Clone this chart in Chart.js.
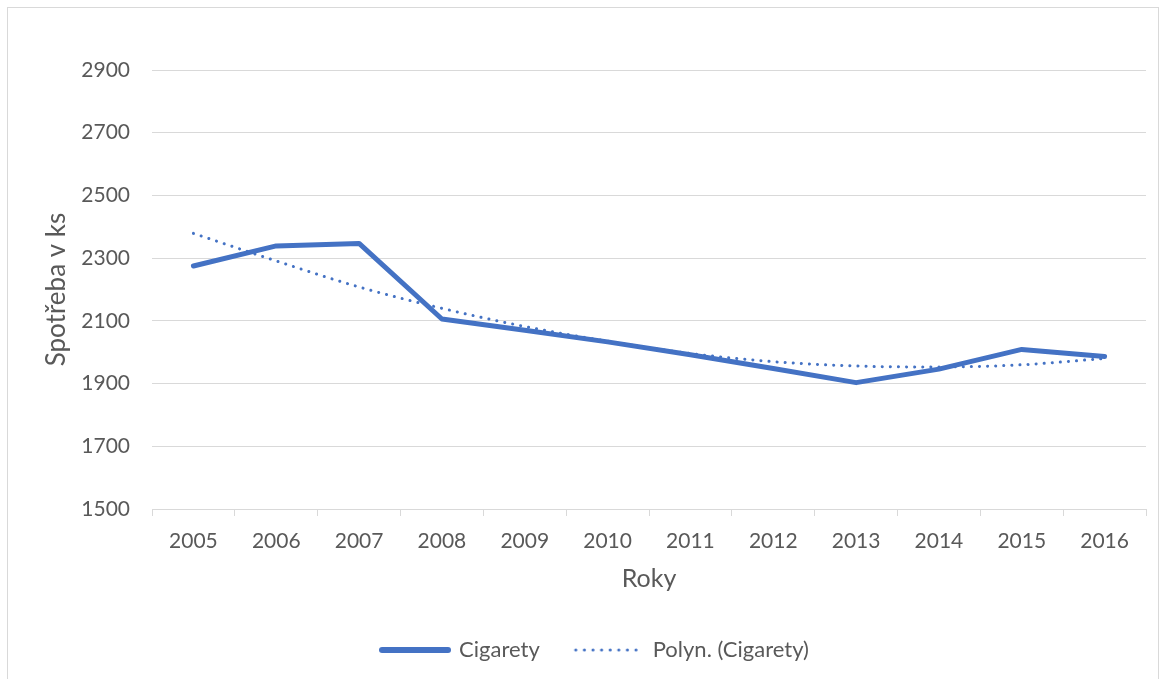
<!DOCTYPE html>
<html>
<head>
<meta charset="utf-8">
<script src="https://cdn.jsdelivr.net/npm/chart.js@4"></script>
<style>
  body { margin: 0; background: #fff; }
  #frame {
    position: absolute; left: 7px; top: 7px;
    width: 1152px; height: 680px;
    border: 1px solid #d9d9d9; box-sizing: border-box;
  }
  #wrap { position: absolute; left: 1px; top: 1px; width: 1150px; height: 670px; }
</style>
</head>
<body>
<div id="frame"><div id="wrap"><canvas id="chart"></canvas></div></div>
<script>
const years = ['2005', '2006', '2007', '2008', '2009', '2010', '2011', '2012', '2013', '2014', '2015', '2016'];
const cigarety = [2275, 2339, 2347, 2106, 2070, 2033, 1992, 1948, 1903, 1946, 2009, 1986];
const trend = [2379, 2291, 2208, 2140, 2082, 2035, 1996, 1970, 1956, 1953, 1960, 1980];
const yTicks = [1500, 1700, 1900, 2100, 2300, 2500, 2700, 2900];

const blue = '#4472C4';
const textColor = '#595959';
const gridColor = '#d9d9d9';

// legend samples drawn as small images, so the dotted one stays dotted
function legendSample(width, dash) {
    const c = document.createElement('canvas');
    c.width = 72; c.height = 8;
    const g = c.getContext('2d');
    g.strokeStyle = blue;
    g.lineWidth = width;
    g.lineCap = 'round';
    g.setLineDash(dash);
    g.beginPath();
    g.moveTo(3, 4);
    g.lineTo(69, 4);
    g.stroke();
    return c;
}

// nudge the legend a little to the right, like the original
const legendShift = {
    id: 'legendShift',
    afterLayout(chart) {
        chart.legend.left += 18;
        chart.legend.right += 18;
    }
};

new Chart(document.getElementById('chart').getContext('2d'), {
    type: 'line',
    data: {
        labels: years,
        datasets: [{
            label: 'Cigarety',
            data: cigarety,
            borderColor: blue,
            backgroundColor: blue,
            borderWidth: 5,
            borderCapStyle: 'round',
            borderJoinStyle: 'round',
            pointRadius: 0,
            pointStyle: legendSample(6, []),
            tension: 0
        }, {
            label: 'Polyn. (Cigarety)',
            data: trend,
            borderColor: blue,
            backgroundColor: blue,
            borderWidth: 3,
            borderCapStyle: 'round',
            borderDash: [0.1, 8],
            pointRadius: 0,
            pointStyle: legendSample(3, [0.1, 8.5]),
            cubicInterpolationMode: 'monotone'
        }]
    },
    plugins: [legendShift],
    options: {
        responsive: true,
        maintainAspectRatio: false,
        animation: false,
        layout: { padding: { top: 61, right: 13, left: 0, bottom: 8 } },
        plugins: {
            tooltip: { enabled: false },
            legend: {
                position: 'bottom',
                labels: {
                    usePointStyle: true,
                    pointStyleWidth: 66,
                    padding: 36,
                    color: textColor,
                    font: { family: 'Lato', size: 22 }
                }
            }
        },
        scales: {
            x: {
                offset: true,
                grid: { offset: true, drawOnChartArea: false, tickLength: 7, color: gridColor },
                border: { color: gridColor, width: 1 },
                ticks: { color: textColor, font: { family: 'Lato', size: 21 }, padding: 13, maxRotation: 0 },
                title: { display: true, text: 'Roky', color: textColor, font: { family: 'Lato', size: 25 }, padding: { top: 0, bottom: 9 } },
                afterFit: (scale) => { scale.height = 94; }
            },
            y: {
                min: 1500,
                max: 2900,
                afterBuildTicks: (scale) => { scale.ticks = yTicks.map(v => ({ value: v })); },
                grid: { color: gridColor, drawTicks: false },
                border: { display: false },
                ticks: { color: textColor, font: { family: 'Lato', size: 21 }, padding: 22, callback: (v) => String(v) },
                title: { display: true, text: 'Spotřeba v ks', color: textColor, font: { family: 'Lato', size: 26 }, padding: { top: 32, bottom: 0 } },
                afterFit: (scale) => { scale.width = 143; }
            }
        }
    }
});
</script>
</body>
</html>
